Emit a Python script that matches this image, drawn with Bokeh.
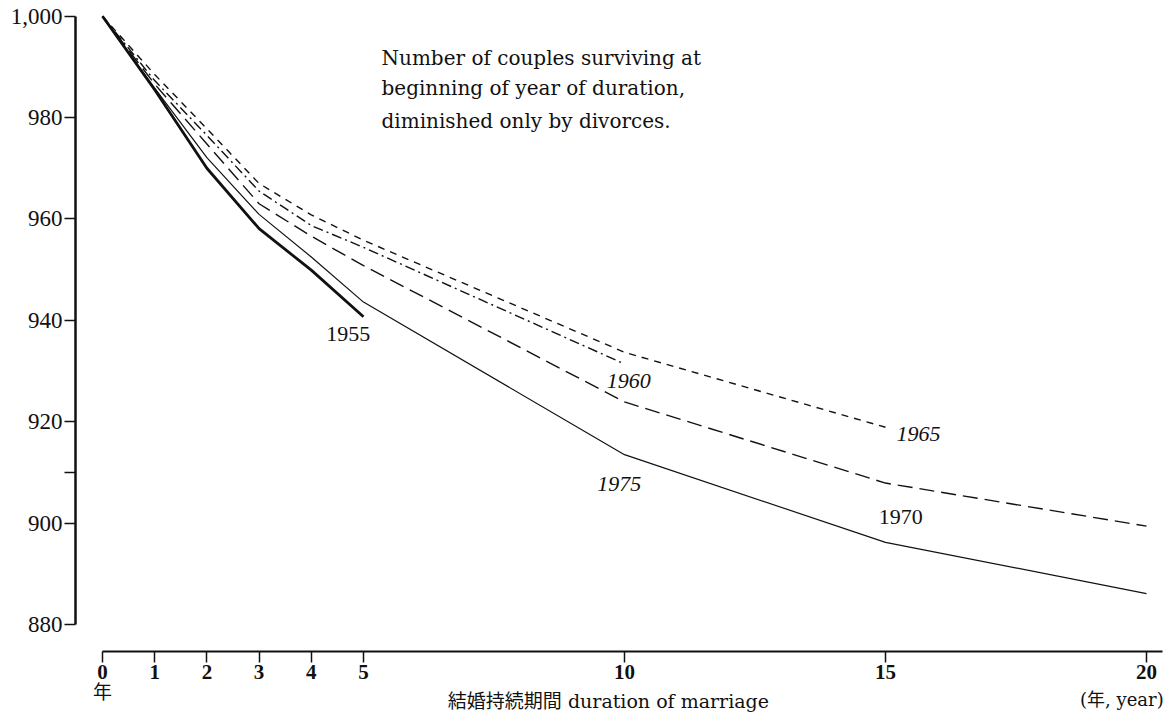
from bokeh.plotting import figure
from bokeh.models import FixedTicker, NumeralTickFormatter, Label, Range1d
from bokeh.embed import file_html
from bokeh.resources import INLINE

# ---- data ----
durations = [0, 1, 2, 3, 4, 5, 10, 15, 20]
y1955 = [1000, 985.5, 970.0, 958.1, 949.9, 940.7]
y1960 = [1000, 987.3, 976.5, 965.5, 958.7, 954.4, 931.4]
y1965 = [1000, 988.5, 977.8, 967.0, 960.8, 955.8, 933.7, 918.9]
y1970 = [1000, 986.6, 974.8, 963.0, 956.6, 950.8, 923.9, 907.9, 899.4]
y1975 = [1000, 985.8, 972.1, 960.9, 952.5, 943.6, 913.5, 896.2, 886.1]

x_ticks = [0, 1, 2, 3, 4, 5, 10, 15, 20]
y_ticks = [880, 900, 920, 940, 960, 980, 1000]
y_minor = [910]

note_lines = ["Number of couples surviving at",
              "beginning of year of duration,",
              "diminished only by divorces."]
x_title = "結婚持続期間  duration of marriage"
x_unit_left = "年"
x_unit_right = "(年, year)"

INK = "#111111"

p = figure(width=1166, height=714, output_backend="svg", toolbar_location=None,
           x_range=Range1d(-0.517, 20.345), y_range=Range1d(862.24, 1002.31),
           min_border_left=75, min_border_right=2, min_border_top=4, min_border_bottom=0)
p.outline_line_color = None
p.xgrid.visible = False
p.ygrid.visible = False
p.background_fill_color = "white"
p.border_fill_color = "white"

# x axis, placed at a fixed level inside the frame
xa = p.xaxis[0]
xa.fixed_location = 874.67
xa.ticker = FixedTicker(ticks=x_ticks)
xa.bounds = (0, 20.3)
xa.axis_line_width = 2
xa.axis_line_color = INK
xa.major_tick_out = 11
xa.major_tick_in = 0
xa.minor_tick_out = 0
xa.minor_tick_in = 0
xa.major_tick_line_width = 1.5
xa.major_tick_line_color = INK
xa.major_label_text_font = "Liberation Serif"
xa.major_label_text_font_style = "bold"
xa.major_label_text_font_size = "21px"
xa.major_label_text_color = INK
xa.major_label_standoff = 3

ya = p.yaxis[0]
ya.ticker = FixedTicker(ticks=y_ticks, minor_ticks=y_minor)
ya.bounds = (880, 1000)
ya.formatter = NumeralTickFormatter(format="0,0")
ya.axis_line_width = 2.5
ya.axis_line_color = INK
ya.major_tick_out = 11
ya.major_tick_in = 0
ya.minor_tick_out = 11
ya.minor_tick_in = 0
ya.major_tick_line_width = 1.5
ya.minor_tick_line_width = 1.5
ya.major_tick_line_color = INK
ya.minor_tick_line_color = INK
ya.major_label_text_font = "Liberation Serif"
ya.major_label_text_font_size = "23px"
ya.major_label_text_color = INK
ya.major_label_standoff = 2

# lines
p.line(durations[:len(y1955)], y1955, line_color=INK, line_width=2.8)
p.line(durations[:len(y1960)], y1960, line_color=INK, line_width=1.4, line_dash="10 4 2 4")
p.line(durations[:len(y1965)], y1965, line_color=INK, line_width=1.4, line_dash="7 6")
p.line(durations[:len(y1970)], y1970, line_color=INK, line_width=1.4, line_dash="15 7")
p.line(durations[:len(y1975)], y1975, line_color=INK, line_width=1.2)

# series labels
series_labels = [
    ("1955", 4.71, 937.4, "normal"),
    ("1960", 10.08, 928.1, "italic"),
    ("1965", 15.63, 917.5, "italic"),
    ("1970", 15.29, 901.2, "normal"),
    ("1975", 9.90, 907.8, "italic"),
]
for txt, lx, ly, style in series_labels:
    p.add_layout(Label(x=lx, y=ly, text=txt, text_font="Liberation Serif",
                       text_font_size="22px", text_font_style=style,
                       text_color=INK, text_align="center", text_baseline="middle"))

# note
note_y = [991.85, 985.74, 979.42]
for line, ny in zip(note_lines, note_y):
    p.add_layout(Label(x=5.345, y=ny, text=line,
                       text_font="DejaVu Serif", text_font_size="20px",
                       text_color=INK, text_align="left", text_baseline="alphabetic"))

# axis texts
p.add_layout(Label(x=0, y=867.0, text=x_unit_left, text_font="Noto Sans CJK JP",
                   text_font_size="19px", text_color=INK,
                   text_align="center", text_baseline="middle"))
p.add_layout(Label(x=20.33, y=865.2, text=x_unit_right,
                   text_font="DejaVu Serif, Noto Sans CJK JP",
                   text_font_size="18px", text_color=INK,
                   text_align="right", text_baseline="middle"))
p.add_layout(Label(x=9.75, y=864.9, text=x_title,
                   text_font="DejaVu Serif, Noto Sans CJK JP",
                   text_font_size="19px", text_color=INK,
                   text_align="center", text_baseline="middle"))

open("out.html", "w").write(file_html(p, INLINE))
